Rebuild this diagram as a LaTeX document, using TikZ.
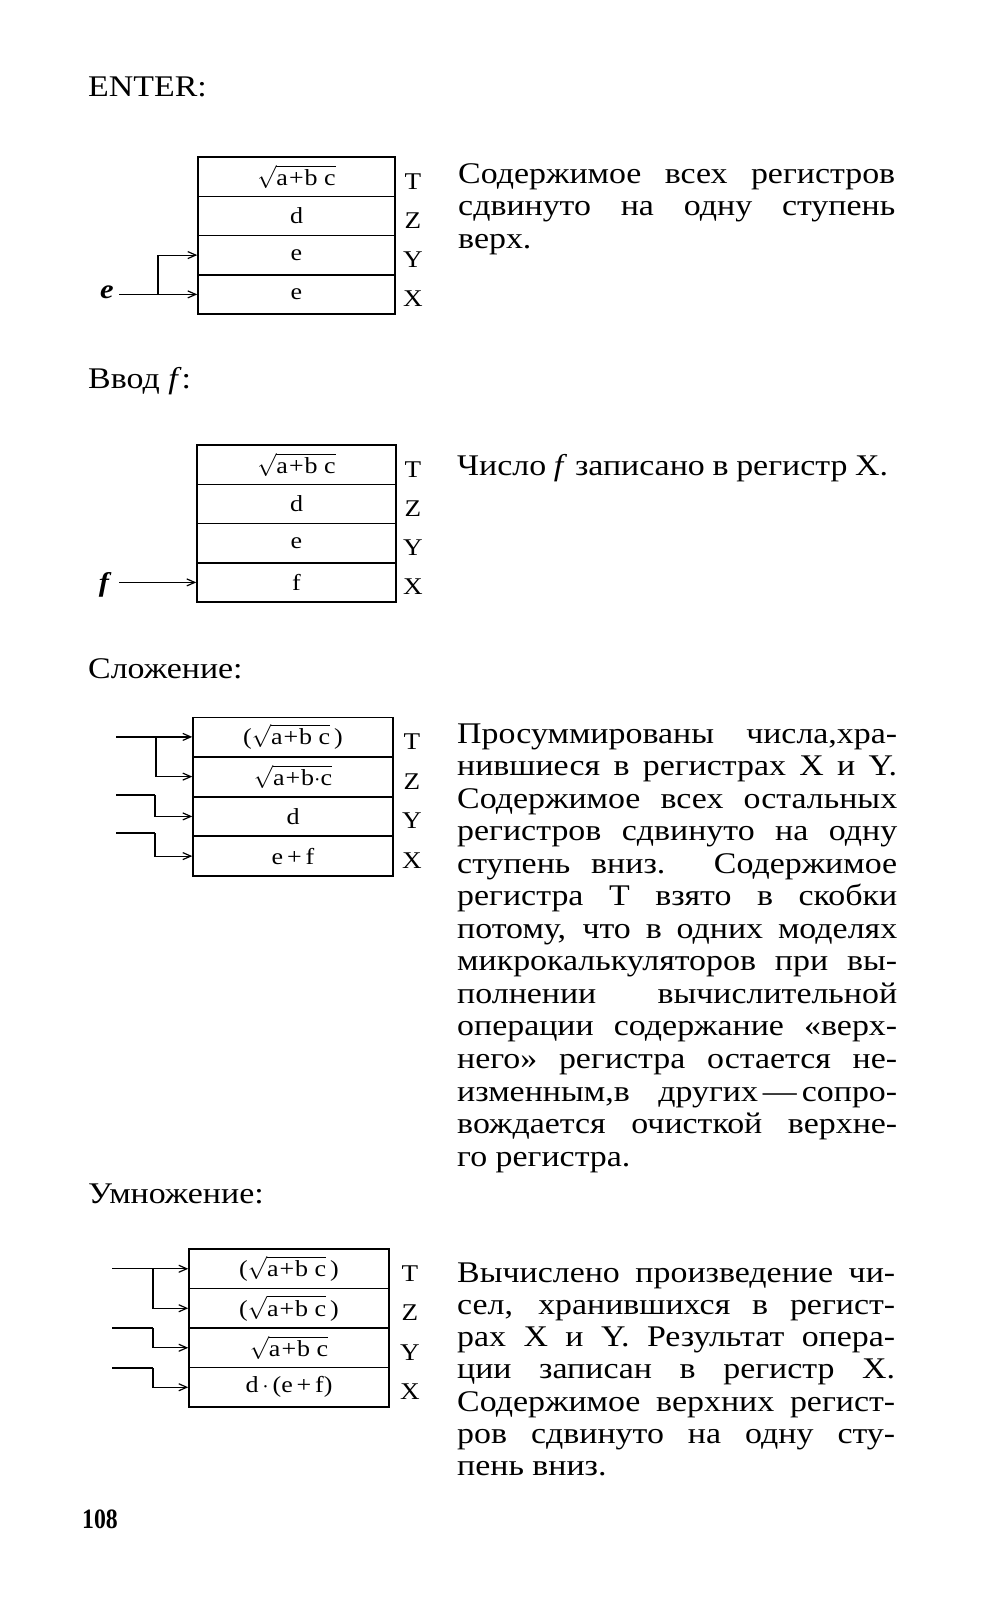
\documentclass[tikz,border=0pt]{standalone}
\usepackage{fix-cm}
\usepackage{fontspec}
\setmainfont{Liberation Serif}[FakeStretch=1.13]
\usetikzlibrary{arrows.meta}
\newcommand\bodyfont{\fontsize{30}{33}\selectfont}
\newcommand\cellfont{\fontsize{23}{25}\selectfont}
\newcommand\labfont{\fontsize{24}{26}\selectfont}
\newcommand\jl[2]{\makebox[#1pt][s]{#2}}
\newcommand\rt[1]{$\sqrt{\mbox{#1}}$}
\tikzset{
  txt/.style={inner sep=0pt, anchor=base west, font=\bodyfont},
  cell/.style={draw, line width=1.5pt, minimum height=39.3pt, inner sep=0pt, font=\cellfont},
  reglab/.style={inner sep=0pt, font=\labfont},
  arr/.style={line width=1.2pt, -{Straight Barb[length=8pt,width=7pt]}},
  seg/.style={line width=1.2pt}
}
\begin{document}
\begin{tikzpicture}[x=1pt,y=-1pt]
\useasboundingbox[fill=white] (0,0) rectangle (982,1600);

% ---------- ENTER ----------
\node[txt] (h1) at (88,97) {ENTER:};
\foreach \n/\y/\t in {a1/176.6/{\rt{a\kern1pt+\kern1pt b\ c}},a2/215.9/d,a3/255.1/e,a4/294.4/e}{
  \node[cell, minimum width=197pt] (\n) at (296.5,\y) {\t};}
\foreach \y/\t in {181.5/T,220.5/Z,259.5/Y,299/X}{\node[reglab] at (413,\y) {\t};}
\node[inner sep=0pt, font=\fontsize{27}{29}\selectfont\itshape\bfseries] (elab) at (107,292) {e};
\coordinate (e0) at (119,294.4);
\coordinate (eb) at (158,294.4);
\draw[arr] (e0) -- (a4.west);
\draw[arr] (eb) |- (a3.west);
\node[txt, anchor=base west] (t1a) at (458,183) {\jl{437}{Содержимое всех регистров}};
\node[txt, anchor=base west] (t1b) at (458,215.5) {\jl{437}{сдвинуто на одну ступень}};
\node[txt, anchor=base west] (t1c) at (458,248) {верх.};

% ---------- Ввод f ----------
\node[txt] (h2) at (88,388) {Ввод \textit{f}:};
\foreach \n/\y/\t in {b1/464.6/{\rt{a\kern1pt+\kern1pt b\ c}},b2/503.9/d,b3/543.1/e,b4/582.4/f}{
  \node[cell, minimum width=199pt] (\n) at (296.5,\y) {\t};}
\foreach \y/\t in {469.5/T,508.5/Z,547.5/Y,587/X}{\node[reglab] at (413,\y) {\t};}
\node[inner sep=0pt, font=\fontsize{27}{29}\selectfont\itshape\bfseries] (flab) at (104,585) {f};
\coordinate (f0) at (119,582.4);
\draw[arr] (f0) -- (b4.west);
\node[txt, anchor=base west] (t2a) at (457,475) {\jl{431}{Число \textit{f} записано в регистр X.}};

% ---------- Сложение ----------
\node[txt] (h3) at (88,678) {Сложение:};
\foreach \n/\y/\t in {c1/736.9/{(\rt{a\kern1pt+\kern1pt b\ c}\,)},c2/776.6/{\rt{a\kern1pt+\kern1pt b$\cdot$c}},c3/816.4/d,c4/856.1/{e\,+\,f}}{
  \node[cell, minimum width=200pt] (\n) at (293,\y) {\t};}
\foreach \y/\t in {742/T,781.5/Z,821/Y,861/X}{\node[reglab] at (412,\y) {\t};}
\coordinate (c1s) at (116,736.9);
\coordinate (c1b) at (156,736.9);
\draw[arr] (c1s) -- (c1.west);
\draw[arr] (c1b) |- (c2.west);
\coordinate (c2s) at (116,795);
\coordinate (c2k) at (155,795);
\draw[seg] (c2s) -- (c2k);
\draw[arr] (c2k) |- (c3.west);
\coordinate (c3s) at (116,833);
\coordinate (c3k) at (155,833);
\draw[seg] (c3s) -- (c3k);
\draw[arr] (c3k) |- (c4.west);

\foreach \k/\t in {
 0/{\jl{440}{Просуммированы числа,хра-}},
 1/{\jl{440}{нившиеся в регистрах X и Y.}},
 2/{\jl{440}{Содержимое всех остальных}},
 3/{\jl{440}{регистров сдвинуто на одну}},
 4/{\jl{440}{ступень вниз. Содержимое}},
 5/{\jl{440}{регистра Т взято в скобки}},
 6/{\jl{440}{потому, что в одних моделях}},
 7/{\jl{440}{микрокалькуляторов при вы-}},
 8/{\jl{440}{полнении вычислительной}},
 9/{\jl{440}{операции содержание «верх-}},
 10/{\jl{440}{него» регистра остается не-}},
 11/{\jl{440}{изменным,в других\,—\,сопро-}},
 12/{\jl{440}{вождается очисткой верхне-}},
 13/{го регистра.}}{
  \node[txt] (t3l\k) at (457,743+32.55*\k) {\t};}

% ---------- Умножение ----------
\node[txt] (h4) at (88,1203) {Умножение:};
\foreach \n/\y/\t in {d1/1268.75/{(\rt{a\kern1pt+\kern1pt b\ c}\,)},d2/1308.25/{(\rt{a\kern1pt+\kern1pt b\ c}\,)},d3/1347.75/{\rt{a\kern1pt+\kern1pt b\ c}},d4/1387.25/{d$\,\cdot\,$(e\,+\,f)}}{
  \node[cell, minimum width=200pt] (\n) at (289,\y) {\t};}
\foreach \y/\t in {1273.5/T,1313/Z,1352.5/Y,1392/X}{\node[reglab] at (410,\y) {\t};}
\coordinate (d1s) at (112,1268.75);
\coordinate (d1b) at (153,1268.75);
\draw[arr] (d1s) -- (d1.west);
\draw[arr] (d1b) |- (d2.west);
\coordinate (d2s) at (112,1328);
\coordinate (d2k) at (153,1328);
\draw[seg] (d2s) -- (d2k);
\draw[arr] (d2k) |- (d3.west);
\coordinate (d3s) at (112,1368);
\coordinate (d3k) at (153,1368);
\draw[seg] (d3s) -- (d3k);
\draw[arr] (d3k) |- (d4.west);

\foreach \k/\t in {
 0/{\jl{438}{Вычислено произведение чи-}},
 1/{\jl{438}{сел, хранившихся в регист-}},
 2/{\jl{438}{рах X и Y. Результат опера-}},
 3/{\jl{438}{ции записан в регистр X.}},
 4/{\jl{438}{Содержимое верхних регист-}},
 5/{\jl{438}{ров сдвинуто на одну сту-}},
 6/{пень вниз.}}{
  \node[txt] (t4l\k) at (457,1282+32.3*\k) {\t};}

% ---------- page number ----------
\node[txt, font=\fontsize{28}{30}\selectfont\bfseries] (pg) at (82,1528) {\scalebox{0.75}[1]{108}};
\end{tikzpicture}
\end{document}
